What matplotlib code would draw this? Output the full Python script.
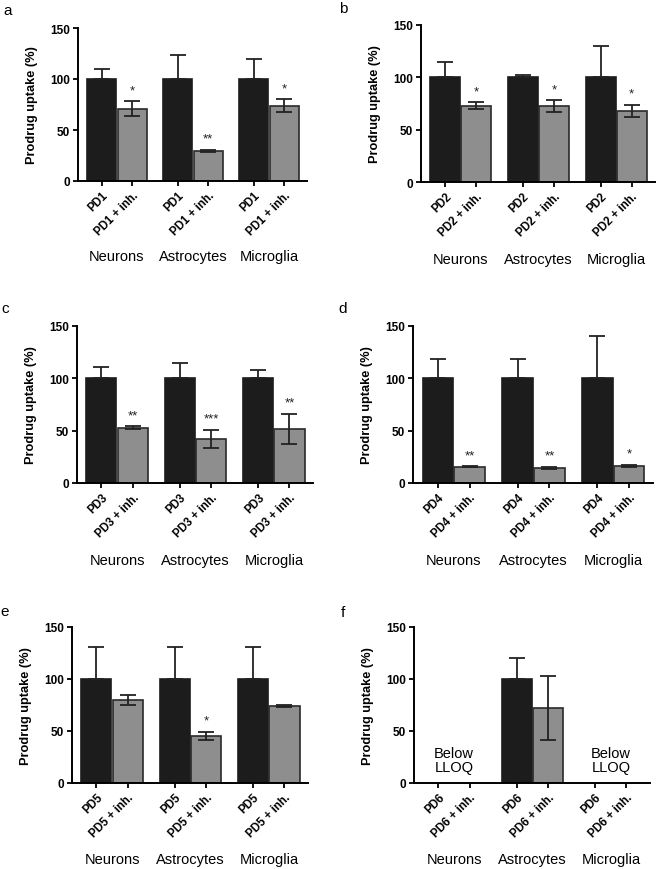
import numpy as np
import matplotlib
matplotlib.use("Agg")
import matplotlib.pyplot as plt

plt.rcParams['font.family'] = ['Liberation Sans', 'DejaVu Sans']

# ============================================
# DATA
# ============================================
cells = ["Neurons", "Astrocytes", "Microglia"]
panel_letters = ["a", "b", "c", "d", "e", "f"]
drugs = ["PD1", "PD2", "PD3", "PD4", "PD5", "PD6"]

# mean uptake (%) per cell type: control / + inhibitor
ctrl_mean = [
    [100, 100, 100],
    [100, 100, 100],
    [100, 100, 100],
    [100, 100, 100],
    [100, 100, 100],
    [np.nan, 100, np.nan],
]
ctrl_err = [
    [10, 24, 20],
    [15, 2, 30],
    [11, 15, 7.5],
    [18.5, 18.5, 40.5],
    [30.5, 30.5, 30.5],
    [np.nan, 20, np.nan],
]
inh_mean = [
    [71, 29.5, 74],
    [73, 72.5, 68],
    [53, 42, 51.5],
    [15.5, 14.5, 16.5],
    [80, 45, 74],
    [np.nan, 72, np.nan],
]
inh_err = [
    [7, 1, 6],
    [3, 5.5, 6],
    [1, 9, 14.5],
    [0.5, 1, 1],
    [5, 4, 1],
    [np.nan, 30.5, np.nan],
]
stars = [
    ["*", "**", "*"],
    ["*", "*", "*"],
    ["**", "***", "**"],
    ["**", "**", "*"],
    ["", "*", ""],
    ["", "", ""],
]
below_lloq = [
    [False, False, False],
    [False, False, False],
    [False, False, False],
    [False, False, False],
    [False, False, False],
    [True, False, True],
]

# ============================================
# LAYOUT (pixel boxes of each axes: left, right, top, bottom)
# ============================================
W, H = 658, 870
boxes = [
    (78, 307, 29, 182),
    (421, 655, 26, 183),
    (77, 313, 327, 484),
    (413, 653, 327, 484),
    (72, 308, 628, 784),
    (414, 650, 628, 784),
]
letter_pos = [(8, 11), (343, 9), (5, 309), (343, 309), (5, 612), (343, 613)]

black = "#1c1c1c"
grey = "#8e8e8e"

fig = plt.figure(figsize=(W / 100, H / 100), dpi=100)

x_ctrl = np.array([0, 2.5, 5.0])
x_inh = x_ctrl + 1

for p in range(6):
    l, r, t, b = boxes[p]
    ax = fig.add_axes([l / W, 1 - b / H, (r - l) / W, (b - t) / H])

    ax.bar(x_ctrl, ctrl_mean[p], width=0.96, color=black, edgecolor=black,
           linewidth=1.2, zorder=2)
    ax.bar(x_inh, inh_mean[p], width=0.96, color=grey, edgecolor="#2a2a2a",
           linewidth=1.2, zorder=2)

    # upper error bars for controls, full bars for inhibitor
    ax.errorbar(x_ctrl, ctrl_mean[p], yerr=[np.zeros(3), ctrl_err[p]],
                fmt="none", ecolor="#222222", elinewidth=1.3, capsize=6,
                capthick=1.3, zorder=3)
    ax.errorbar(x_inh, inh_mean[p], yerr=inh_err[p], fmt="none",
                ecolor="#222222", elinewidth=1.3, capsize=6, capthick=1.3,
                zorder=3)

    for i in range(3):
        if stars[p][i]:
            top = inh_mean[p][i] + inh_err[p][i]
            ax.text(x_inh[i], top + 5, stars[p][i], ha="center", va="bottom",
                    fontsize=9.5, color="#222222")
        if below_lloq[p][i]:
            ax.text(x_ctrl[i] + 0.5, 22, "Below\nLLOQ", ha="center",
                    va="center", fontsize=10.5, linespacing=1.05)

    ax.set_ylim(0, 150)
    ax.set_xlim(-0.78, 6.75)
    ax.set_yticks([0, 50, 100, 150])
    ax.set_yticklabels(["0", "50", "100", "150"], fontsize=8.5,
                       fontweight="bold")

    xt = np.sort(np.concatenate([x_ctrl, x_inh]))
    ax.set_xticks(xt)
    ax.set_xticklabels([drugs[p], drugs[p] + " + inh."] * 3, rotation=45,
                       ha="right", rotation_mode="anchor", fontsize=8.3,
                       fontweight="bold")

    ax.spines["top"].set_visible(False)
    ax.spines["right"].set_visible(False)
    ax.spines["left"].set_linewidth(1.4)
    ax.spines["bottom"].set_linewidth(1.4)
    ax.tick_params(axis="both", direction="out", length=3.5, width=1.3, pad=2)

    ax.set_ylabel("Prodrug uptake (%)", fontsize=9.2, fontweight="bold",
                  labelpad=9)

    trans = ax.get_xaxis_transform()
    for i, c in enumerate(cells):
        ax.text(x_ctrl[i] + 0.5, -0.49, c, transform=trans, ha="center",
                va="center", fontsize=10.5)

    lx, ly = letter_pos[p]
    fig.text(lx / W, 1 - ly / H, panel_letters[p], ha="center", va="center",
             fontsize=11)

fig.savefig("out.png", dpi=100)
